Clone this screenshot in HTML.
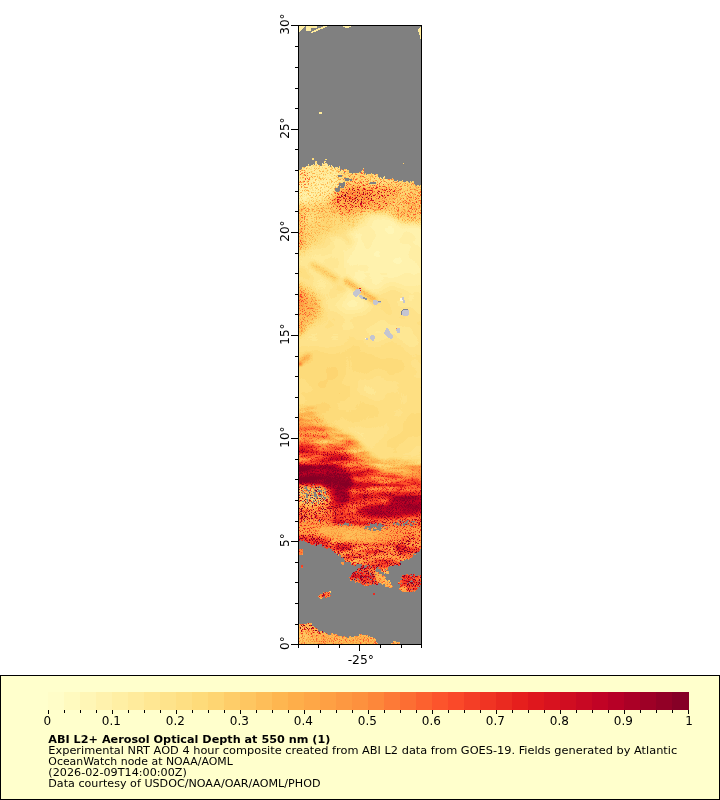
<!DOCTYPE html>
<html lang="en"><head><meta charset="utf-8"><title>ABI L2+ Aerosol Optical Depth at 550 nm</title>
<style>html,body{margin:0;padding:0;background:#fff}body{width:720px;height:800px;overflow:hidden}svg{display:block}text{font-family:"DejaVu Sans","Liberation Sans",sans-serif;fill:#000}</style></head><body>
<svg width="720" height="800" viewBox="0 0 720 800">
<rect width="720" height="800" fill="#fff"/>
<defs>
<clipPath id="mc"><rect x="299" y="26" width="122" height="618"/></clipPath>
<filter id="cm" filterUnits="userSpaceOnUse" x="298" y="25" width="124" height="620" color-interpolation-filters="sRGB">
<feColorMatrix in="SourceGraphic" type="matrix" values="1 0 0 0 0 1 0 0 0 0 1 0 0 0 0 0 0 0 0 1" result="V"/>
<feColorMatrix in="SourceGraphic" type="matrix" values="0 1 0 0 0 0 1 0 0 0 0 1 0 0 0 0 0 0 0 1" result="G"/>
<feTurbulence type="fractalNoise" baseFrequency="1.73 1.37" numOctaves="1" seed="5" result="T2"/>
<feGaussianBlur in="T2" stdDeviation="0.55" result="T2b"/>
<feColorMatrix in="T2b" type="matrix" values="0 3.4 0 0 -1.2 0 3.4 0 0 -1.2 0 3.4 0 0 -1.2 0 0 0 0 1" result="N2a"/>
<feComponentTransfer in="N2a" result="N2"><feFuncR type="gamma" exponent="3.2"/><feFuncG type="gamma" exponent="3.2"/><feFuncB type="gamma" exponent="3.2"/></feComponentTransfer>
<feTurbulence type="fractalNoise" baseFrequency="0.035 0.04" numOctaves="2" seed="21" result="T3"/>
<feColorMatrix in="T3" type="matrix" values="1 0 0 0 0 1 0 0 0 0 1 0 0 0 0 0 0 0 0 1" result="NL"/>
<feColorMatrix in="SourceGraphic" type="matrix" values="0 0 1 0 0 0 0 1 0 0 0 0 1 0 0 0 0 0 0 1" result="B"/>
<feTurbulence type="fractalNoise" baseFrequency="0.035 0.16" numOctaves="2" seed="8" result="T4"/>
<feColorMatrix in="T4" type="matrix" values="2.2 0 0 0 -0.6 2.2 0 0 0 -0.6 2.2 0 0 0 -0.6 0 0 0 0 1" result="N3"/>
<feComposite in="B" in2="N3" operator="arithmetic" k1="1" k2="0" k3="0" k4="0" result="MB"/>
<feComposite in="G" in2="N2" operator="arithmetic" k1="1" k2="0" k3="0" k4="0" result="M"/>
<feComposite in="V" in2="MB" operator="arithmetic" k1="0" k2="1" k3="1.0" k4="0" result="V2"/>
<feComposite in="V2" in2="M" operator="arithmetic" k1="0" k2="1" k3="1.0" k4="0" result="S"/>
<feComposite in="S" in2="NL" operator="arithmetic" k1="0" k2="1" k3="0.11" k4="-0.055" result="T"/>
<feComponentTransfer in="T">
<feFuncR type="discrete" tableValues="1.000 1.000 1.000 1.000 1.000 1.000 0.999 0.998 0.997 0.996 0.996 0.996 0.996 0.996 0.996 0.996 0.995 0.994 0.993 0.993 0.992 0.991 0.990 0.989 0.989 0.978 0.959 0.939 0.920 0.900 0.875 0.845 0.816 0.786 0.756 0.717 0.669 0.622 0.574 0.526"/>
<feFuncG type="discrete" tableValues="0.993 0.979 0.965 0.951 0.936 0.922 0.906 0.890 0.875 0.859 0.836 0.805 0.775 0.744 0.713 0.684 0.655 0.625 0.596 0.567 0.528 0.479 0.429 0.380 0.331 0.285 0.245 0.204 0.163 0.122 0.092 0.071 0.051 0.031 0.010 0.000 0.000 0.000 0.000 0.000"/>
<feFuncB type="discrete" tableValues="0.783 0.748 0.714 0.679 0.645 0.611 0.578 0.545 0.512 0.479 0.446 0.413 0.380 0.347 0.315 0.292 0.279 0.267 0.254 0.242 0.228 0.214 0.200 0.186 0.172 0.159 0.148 0.137 0.126 0.115 0.114 0.122 0.129 0.137 0.145 0.149 0.149 0.149 0.149 0.149"/>
</feComponentTransfer></filter>
<filter id="b1" x="-50%" y="-50%" width="200%" height="200%" color-interpolation-filters="sRGB"><feGaussianBlur stdDeviation="1"/></filter>
<filter id="b2" x="-50%" y="-50%" width="200%" height="200%" color-interpolation-filters="sRGB"><feGaussianBlur stdDeviation="2"/></filter>
<filter id="b3" x="-50%" y="-50%" width="200%" height="200%" color-interpolation-filters="sRGB"><feGaussianBlur stdDeviation="3"/></filter>
<filter id="b5" x="-50%" y="-50%" width="200%" height="200%" color-interpolation-filters="sRGB"><feGaussianBlur stdDeviation="5"/></filter>
<filter id="b8" x="-50%" y="-50%" width="200%" height="200%" color-interpolation-filters="sRGB"><feGaussianBlur stdDeviation="8"/></filter>
</defs>
<g clip-path="url(#mc)">
<g filter="url(#cm)">
<rect x="297" y="24" width="126" height="622" fill="#2e0000"/>
<g filter="url(#b8)"><polygon points="280,222 345,222 345,288 280,288" fill="#260000"/><polygon points="345,215 440,215 440,288 345,288" fill="#180000"/><polygon points="280,288 440,288 440,345 280,345" fill="#2e0000"/><ellipse cx="352" cy="304" rx="16" ry="12" fill="#1c0000"/><polygon points="280,345 440,345 440,425 280,425" fill="#370000"/><polygon points="280,345 350,345 350,425 280,425" fill="#3c0000"/><ellipse cx="385" cy="395" rx="18" ry="14" fill="#2f0000"/><polygon points="370,420 440,420 440,470 370,470" fill="#380000"/></g>
<g filter="url(#b5)"><polygon points="280,0 440,0 440,150 280,150" fill="#200000"/><ellipse cx="326" cy="212" rx="32" ry="11" fill="#3c4c00"/><polygon points="280,212 372,212 352,228 322,236 309,250 280,264" fill="#3c2600"/><ellipse cx="296" cy="307" rx="24" ry="22" fill="#534000"/></g>
<g filter="url(#b3)"><polygon points="280,150 440,150 440,170 280,170" fill="#4c0000"/><polygon points="280,160 342,160 342,203 280,203" fill="#1d4000"/><ellipse cx="303" cy="178" rx="8" ry="10" fill="#2b8000"/><polygon points="340,160 394,170 394,192 340,190" fill="#395900"/><polygon points="340,188 394,190 394,212 372,211 342,215 328,200" fill="#577300"/><polygon points="390,170 440,175 440,224 402,222 388,212" fill="#434c00"/><ellipse cx="412" cy="205" rx="9" ry="8" fill="#4d5900"/><ellipse cx="355" cy="195" rx="16" ry="9" fill="#6d9900"/><ellipse cx="385" cy="192" rx="14" ry="6" fill="#578000"/><polyline points="331,223 350,243" fill="none" stroke="#3d0000" stroke-width="6" stroke-linecap="round" stroke-linejoin="round"/><polyline points="298,270 312,280" fill="none" stroke="#400000" stroke-width="5" stroke-linecap="round" stroke-linejoin="round"/><ellipse cx="296" cy="302" rx="7" ry="9" fill="#744c00"/><ellipse cx="298" cy="328" rx="6" ry="8" fill="#584000"/><polygon points="280,408 314,408 322,432 280,432" fill="#2c144c"/><polygon points="280,423 324,423 355,440 370,456 384,464 407,462 440,468 440,500 280,500" fill="#411f4c"/><polygon points="280,446 340,446 358,460 372,468 400,480 440,488 440,530 280,530" fill="#703359"/><polygon points="350,490 440,490 440,528 328,528 328,500" fill="#824c40"/><polygon points="280,483 328,483 328,516 280,516" fill="#4bb200"/><polygon points="280,508 335,508 335,524 280,524" fill="#698033"/><polygon points="380,517 440,517 440,528 380,528" fill="#886600"/><ellipse cx="416" cy="550" rx="8" ry="7" fill="#8f6600"/><polygon points="280,615 405,615 405,660 280,660" fill="#534000"/></g>
<g filter="url(#b2)"><polygon points="280,205 306,205 304,248 280,248" fill="#4d5900"/><polyline points="313,265 336,279" fill="none" stroke="#4b1400" stroke-width="6" stroke-linecap="round" stroke-linejoin="round"/><polyline points="346,281 374,300" fill="none" stroke="#5b1a00" stroke-width="6" stroke-linecap="round" stroke-linejoin="round"/><polyline points="338,287 345,290" fill="none" stroke="#400000" stroke-width="3" stroke-linecap="round" stroke-linejoin="round"/><polyline points="296,365 309,356" fill="none" stroke="#651a00" stroke-width="4" stroke-linecap="round" stroke-linejoin="round"/><ellipse cx="318" cy="421" rx="5" ry="3" fill="#504c00"/><ellipse cx="314" cy="435" rx="16" ry="2.5" fill="#7e4c33"/><ellipse cx="336" cy="455" rx="16" ry="3" fill="#ac4c33"/><polygon points="280,465 330,464 349,471 354,484 347,492 330,491 322,485 280,483" fill="#db4026"/><ellipse cx="395" cy="463" rx="12" ry="2.5" fill="#4f1a00"/><ellipse cx="341" cy="496" rx="9" ry="8" fill="#dd331a"/><ellipse cx="407" cy="504" rx="20" ry="9" fill="#dd331a"/><ellipse cx="388" cy="511" rx="32" ry="6" fill="#d3331a"/><polygon points="280,521 305,522 340,526 380,530 400,527 440,527 440,541 370,546 340,542 305,536 280,533" fill="#674c00"/><polygon points="318,527 340,528 385,532 388,539 365,543 340,539 318,534" fill="#581f00"/><polygon points="280,533 330,538 332,552 280,552" fill="#a59900"/><polygon points="330,543 440,543 440,575 330,575" fill="#5a734c"/><ellipse cx="410" cy="540" rx="12" ry="4" fill="#7d8000"/><polygon points="360,565 376,565 381,576 381,587 366,587 348,582 348,574" fill="#828033"/><polygon points="401,573 440,573 440,586 414,593 398,593 397,584" fill="#828033"/><polygon points="280,618 322,618 326,634 280,630" fill="#58b200"/></g>
<g filter="url(#b1)"><ellipse cx="300" cy="364" rx="2" ry="1" fill="#bf0000"/><polygon points="333,544 346,543 353,546 352,550 340,551 334,548" fill="#b1b200"/><polygon points="394,545 404,544 408,548 404,552 396,551" fill="#b1b200"/><polygon points="375,571 381,571 396,586 393,591 387,590 375,579" fill="#584000"/><ellipse cx="403" cy="589" rx="5" ry="3" fill="#624c00"/><ellipse cx="325" cy="595" rx="8" ry="4" fill="#836600"/><ellipse cx="374" cy="594" rx="3" ry="3" fill="#bf0000"/><ellipse cx="300" cy="551" rx="5" ry="5" fill="#884c00"/><ellipse cx="302" cy="566" rx="3" ry="3" fill="#b20000"/><ellipse cx="342" cy="563" rx="3" ry="3" fill="#730000"/></g>
</g>
<path fill="#808080" shape-rendering="crispEdges" d="M305 26h1v1h-1zM317 26h6v1h-6zM327 26h16v1h-16zM351 26h70v1h-70zM304 27h2v1h-2zM317 27h4v1h-4zM325 27h20v1h-20zM349 27h71v1h-71zM303 28h3v1h-3zM311 28h7v1h-7zM323 28h96v1h-96zM302 29h4v1h-4zM311 29h5v1h-5zM320 29h98v1h-98zM301 30h5v1h-5zM311 30h3v1h-3zM318 30h100v1h-100zM300 31h12v1h-12zM316 31h102v1h-102zM299 32h12v1h-12zM313 32h106v1h-106zM299 33h120v1h-120zM299 34h120v1h-120zM299 35h121v1h-121zM299 36h121v1h-121zM299 37h121v1h-121zM299 38h121v1h-121zM299 39h122v1h-122zM299 40h122v1h-122zM299 41h122v1h-122zM299 42h122v1h-122zM299 43h122v1h-122zM299 44h122v1h-122zM299 45h122v1h-122zM299 46h122v1h-122zM299 47h122v1h-122zM299 48h122v1h-122zM299 49h122v1h-122zM299 50h122v1h-122zM299 51h122v1h-122zM299 52h122v1h-122zM299 53h122v1h-122zM299 54h122v1h-122zM299 55h122v1h-122zM299 56h122v1h-122zM299 57h122v1h-122zM299 58h122v1h-122zM299 59h122v1h-122zM299 60h122v1h-122zM299 61h122v1h-122zM299 62h122v1h-122zM299 63h122v1h-122zM299 64h122v1h-122zM299 65h122v1h-122zM299 66h122v1h-122zM299 67h122v1h-122zM299 68h122v1h-122zM299 69h122v1h-122zM299 70h122v1h-122zM299 71h122v1h-122zM299 72h122v1h-122zM299 73h122v1h-122zM299 74h122v1h-122zM299 75h122v1h-122zM299 76h122v1h-122zM299 77h122v1h-122zM299 78h122v1h-122zM299 79h122v1h-122zM299 80h122v1h-122zM299 81h122v1h-122zM299 82h122v1h-122zM299 83h122v1h-122zM299 84h122v1h-122zM299 85h122v1h-122zM299 86h122v1h-122zM299 87h122v1h-122zM299 88h122v1h-122zM299 89h122v1h-122zM299 90h122v1h-122zM299 91h122v1h-122zM299 92h122v1h-122zM299 93h122v1h-122zM299 94h122v1h-122zM299 95h122v1h-122zM299 96h122v1h-122zM299 97h122v1h-122zM299 98h122v1h-122zM299 99h122v1h-122zM299 100h122v1h-122zM299 101h122v1h-122zM299 102h122v1h-122zM299 103h122v1h-122zM299 104h122v1h-122zM299 105h122v1h-122zM299 106h122v1h-122zM299 107h122v1h-122zM299 108h122v1h-122zM299 109h122v1h-122zM299 110h122v1h-122zM299 111h122v1h-122zM299 112h20v1h-20zM322 112h99v1h-99zM299 113h20v1h-20zM322 113h99v1h-99zM299 114h122v1h-122zM299 115h122v1h-122zM299 116h122v1h-122zM299 117h122v1h-122zM299 118h122v1h-122zM299 119h122v1h-122zM299 120h122v1h-122zM299 121h122v1h-122zM299 122h122v1h-122zM299 123h122v1h-122zM299 124h122v1h-122zM299 125h122v1h-122zM299 126h122v1h-122zM299 127h122v1h-122zM299 128h122v1h-122zM299 129h122v1h-122zM299 130h122v1h-122zM299 131h122v1h-122zM299 132h122v1h-122zM299 133h122v1h-122zM299 134h122v1h-122zM299 135h122v1h-122zM299 136h122v1h-122zM299 137h122v1h-122zM299 138h122v1h-122zM299 139h122v1h-122zM299 140h122v1h-122zM299 141h122v1h-122zM299 142h122v1h-122zM299 143h122v1h-122zM299 144h122v1h-122zM299 145h122v1h-122zM299 146h122v1h-122zM299 147h122v1h-122zM299 148h122v1h-122zM299 149h122v1h-122zM299 150h122v1h-122zM299 151h122v1h-122zM299 152h122v1h-122zM299 153h122v1h-122zM299 154h122v1h-122zM299 155h122v1h-122zM299 156h122v1h-122zM299 157h122v1h-122zM299 158h13v1h-13zM314 158h107v1h-107zM299 159h13v1h-13zM314 159h11v1h-11zM327 159h94v1h-94zM299 160h122v1h-122zM299 161h16v1h-16zM317 161h7v1h-7zM326 161h95v1h-95zM299 162h16v1h-16zM317 162h7v1h-7zM325 162h96v1h-96zM299 163h16v1h-16zM317 163h5v1h-5zM323 163h1v1h-1zM327 163h76v1h-76zM404 163h17v1h-17zM299 164h9v1h-9zM309 164h4v1h-4zM314 164h1v1h-1zM318 164h4v1h-4zM328 164h93v1h-93zM299 165h9v1h-9zM309 165h2v1h-2zM320 165h2v1h-2zM328 165h1v1h-1zM330 165h1v1h-1zM332 165h89v1h-89zM299 166h7v1h-7zM330 166h1v1h-1zM333 166h6v1h-6zM340 166h81v1h-81zM299 167h3v1h-3zM334 167h1v1h-1zM338 167h1v1h-1zM340 167h81v1h-81zM299 168h3v1h-3zM340 168h23v1h-23zM364 168h57v1h-57zM299 169h2v1h-2zM340 169h1v1h-1zM342 169h2v1h-2zM347 169h16v1h-16zM364 169h57v1h-57zM340 170h1v1h-1zM349 170h13v1h-13zM364 170h57v1h-57zM349 171h12v1h-12zM364 171h57v1h-57zM344 172h1v1h-1zM349 172h10v1h-10zM360 172h1v1h-1zM364 172h57v1h-57zM352 173h1v1h-1zM364 173h1v1h-1zM366 173h5v1h-5zM372 173h49v1h-49zM366 174h1v1h-1zM374 174h1v1h-1zM378 174h43v1h-43zM338 175h4v1h-4zM378 175h43v1h-43zM338 176h4v1h-4zM378 176h6v1h-6zM385 176h36v1h-36zM379 177h1v1h-1zM381 177h2v1h-2zM385 177h36v1h-36zM344 178h5v1h-5zM382 178h1v1h-1zM385 178h7v1h-7zM393 178h28v1h-28zM345 179h7v1h-7zM394 179h27v1h-27zM345 180h4v1h-4zM350 180h2v1h-2zM394 180h3v1h-3zM398 180h4v1h-4zM403 180h18v1h-18zM398 181h1v1h-1zM403 181h3v1h-3zM408 181h2v1h-2zM411 181h1v1h-1zM414 181h7v1h-7zM343 182h2v1h-2zM370 182h6v1h-6zM409 182h1v1h-1zM414 182h7v1h-7zM339 183h6v1h-6zM369 183h7v1h-7zM414 183h7v1h-7zM339 184h6v1h-6zM415 184h6v1h-6zM339 185h6v1h-6zM416 185h1v1h-1zM419 185h1v1h-1zM338 186h2v1h-2zM341 186h3v1h-3zM338 187h6v1h-6zM335 188h5v1h-5zM335 189h5v1h-5zM335 190h5v1h-5zM336 191h3v1h-3zM313 484h1v1h-1zM304 486h1v1h-1zM306 486h1v1h-1zM312 486h1v1h-1zM319 486h1v1h-1zM305 487h2v1h-2zM317 487h1v1h-1zM319 487h1v1h-1zM304 488h3v1h-3zM310 488h1v1h-1zM313 488h1v1h-1zM316 488h1v1h-1zM324 488h1v1h-1zM306 489h2v1h-2zM314 489h1v1h-1zM318 489h1v1h-1zM325 489h1v1h-1zM302 490h1v1h-1zM307 490h3v1h-3zM314 490h1v1h-1zM318 490h4v1h-4zM323 490h1v1h-1zM303 491h1v1h-1zM308 491h1v1h-1zM311 491h1v1h-1zM315 491h1v1h-1zM317 491h5v1h-5zM325 491h1v1h-1zM301 492h1v1h-1zM313 492h3v1h-3zM321 492h1v1h-1zM324 492h2v1h-2zM302 493h1v1h-1zM304 493h3v1h-3zM309 493h1v1h-1zM311 493h1v1h-1zM314 493h2v1h-2zM325 493h1v1h-1zM299 494h1v1h-1zM306 494h3v1h-3zM314 494h3v1h-3zM321 494h1v1h-1zM306 495h2v1h-2zM311 495h2v1h-2zM314 495h3v1h-3zM318 495h5v1h-5zM301 496h1v1h-1zM306 496h2v1h-2zM314 496h3v1h-3zM319 496h3v1h-3zM323 496h1v1h-1zM327 496h1v1h-1zM304 497h1v1h-1zM306 497h2v1h-2zM310 497h2v1h-2zM316 497h2v1h-2zM321 497h1v1h-1zM323 497h3v1h-3zM328 497h1v1h-1zM310 498h1v1h-1zM313 498h1v1h-1zM316 498h1v1h-1zM324 498h2v1h-2zM306 499h2v1h-2zM315 499h1v1h-1zM321 499h1v1h-1zM324 499h1v1h-1zM307 500h1v1h-1zM313 500h1v1h-1zM318 500h1v1h-1zM302 501h2v1h-2zM307 501h1v1h-1zM313 501h2v1h-2zM316 501h1v1h-1zM322 501h1v1h-1zM306 502h1v1h-1zM311 502h2v1h-2zM318 502h1v1h-1zM305 503h1v1h-1zM312 503h1v1h-1zM318 503h1v1h-1zM319 520h1v1h-1zM398 520h1v1h-1zM400 520h1v1h-1zM407 520h2v1h-2zM304 521h1v1h-1zM319 521h1v1h-1zM402 521h2v1h-2zM406 521h2v1h-2zM411 521h4v1h-4zM345 522h1v1h-1zM394 522h1v1h-1zM397 522h1v1h-1zM405 522h3v1h-3zM413 522h1v1h-1zM416 522h1v1h-1zM344 523h5v1h-5zM368 523h1v1h-1zM370 523h1v1h-1zM375 523h2v1h-2zM379 523h2v1h-2zM393 523h2v1h-2zM396 523h3v1h-3zM403 523h4v1h-4zM410 523h1v1h-1zM338 524h1v1h-1zM340 524h1v1h-1zM343 524h6v1h-6zM351 524h1v1h-1zM370 524h7v1h-7zM378 524h4v1h-4zM393 524h1v1h-1zM396 524h4v1h-4zM401 524h1v1h-1zM403 524h2v1h-2zM407 524h2v1h-2zM410 524h2v1h-2zM414 524h1v1h-1zM340 525h1v1h-1zM342 525h1v1h-1zM347 525h2v1h-2zM351 525h1v1h-1zM370 525h7v1h-7zM378 525h7v1h-7zM398 525h1v1h-1zM401 525h1v1h-1zM403 525h2v1h-2zM410 525h3v1h-3zM365 526h18v1h-18zM365 527h2v1h-2zM368 527h5v1h-5zM376 527h5v1h-5zM387 527h1v1h-1zM364 528h3v1h-3zM369 528h2v1h-2zM373 528h1v1h-1zM377 528h5v1h-5zM384 528h1v1h-1zM368 529h3v1h-3zM373 529h8v1h-8zM370 530h1v1h-1zM373 530h3v1h-3zM379 530h2v1h-2zM300 540h1v1h-1zM303 540h1v1h-1zM299 541h6v1h-6zM299 542h8v1h-8zM299 543h11v1h-11zM315 543h1v1h-1zM299 544h12v1h-12zM314 544h1v1h-1zM319 544h3v1h-3zM299 545h16v1h-16zM317 545h5v1h-5zM299 546h23v1h-23zM323 546h2v1h-2zM299 547h25v1h-25zM299 548h27v1h-27zM328 548h2v1h-2zM303 549h29v1h-29zM420 549h1v1h-1zM303 550h29v1h-29zM420 550h1v1h-1zM303 551h31v1h-31zM419 551h2v1h-2zM303 552h31v1h-31zM417 552h4v1h-4zM303 553h33v1h-33zM337 553h1v1h-1zM414 553h7v1h-7zM303 554h34v1h-34zM339 554h1v1h-1zM413 554h1v1h-1zM416 554h5v1h-5zM299 555h39v1h-39zM339 555h2v1h-2zM413 555h8v1h-8zM299 556h42v1h-42zM413 556h8v1h-8zM299 557h42v1h-42zM342 557h1v1h-1zM412 557h9v1h-9zM299 558h45v1h-45zM410 558h11v1h-11zM299 559h45v1h-45zM406 559h2v1h-2zM409 559h12v1h-12zM299 560h46v1h-46zM404 560h17v1h-17zM299 561h46v1h-46zM400 561h21v1h-21zM299 562h42v1h-42zM344 562h7v1h-7zM400 562h21v1h-21zM299 563h42v1h-42zM344 563h7v1h-7zM401 563h20v1h-20zM299 564h43v1h-43zM344 564h7v1h-7zM356 564h6v1h-6zM401 564h20v1h-20zM299 565h2v1h-2zM303 565h51v1h-51zM356 565h6v1h-6zM365 565h2v1h-2zM368 565h1v1h-1zM394 565h4v1h-4zM400 565h21v1h-21zM299 566h2v1h-2zM303 566h58v1h-58zM364 566h3v1h-3zM371 566h1v1h-1zM389 566h32v1h-32zM299 567h2v1h-2zM303 567h58v1h-58zM364 567h2v1h-2zM369 567h1v1h-1zM377 567h2v1h-2zM388 567h33v1h-33zM299 568h59v1h-59zM363 568h1v1h-1zM376 568h2v1h-2zM388 568h33v1h-33zM299 569h58v1h-58zM376 569h5v1h-5zM385 569h1v1h-1zM388 569h33v1h-33zM299 570h58v1h-58zM360 570h1v1h-1zM375 570h6v1h-6zM386 570h35v1h-35zM299 571h56v1h-56zM359 571h1v1h-1zM362 571h1v1h-1zM368 571h1v1h-1zM376 571h5v1h-5zM389 571h32v1h-32zM299 572h54v1h-54zM379 572h5v1h-5zM389 572h32v1h-32zM299 573h53v1h-53zM356 573h1v1h-1zM364 573h1v1h-1zM370 573h1v1h-1zM379 573h5v1h-5zM385 573h1v1h-1zM389 573h32v1h-32zM299 574h53v1h-53zM360 574h1v1h-1zM370 574h1v1h-1zM375 574h1v1h-1zM382 574h24v1h-24zM408 574h2v1h-2zM412 574h1v1h-1zM415 574h6v1h-6zM299 575h52v1h-52zM371 575h1v1h-1zM382 575h1v1h-1zM384 575h18v1h-18zM410 575h3v1h-3zM415 575h3v1h-3zM419 575h1v1h-1zM299 576h52v1h-52zM385 576h17v1h-17zM299 577h50v1h-50zM362 577h1v1h-1zM367 577h1v1h-1zM372 577h1v1h-1zM386 577h15v1h-15zM412 577h1v1h-1zM299 578h51v1h-51zM354 578h1v1h-1zM357 578h1v1h-1zM369 578h1v1h-1zM385 578h17v1h-17zM414 578h1v1h-1zM299 579h51v1h-51zM355 579h1v1h-1zM358 579h1v1h-1zM370 579h2v1h-2zM386 579h16v1h-16zM405 579h1v1h-1zM299 580h51v1h-51zM352 580h2v1h-2zM375 580h1v1h-1zM387 580h1v1h-1zM390 580h10v1h-10zM411 580h1v1h-1zM299 581h56v1h-56zM360 581h1v1h-1zM390 581h10v1h-10zM410 581h3v1h-3zM418 581h1v1h-1zM299 582h56v1h-56zM356 582h2v1h-2zM373 582h1v1h-1zM389 582h1v1h-1zM391 582h7v1h-7zM409 582h1v1h-1zM420 582h1v1h-1zM299 583h62v1h-62zM365 583h1v1h-1zM368 583h1v1h-1zM378 583h3v1h-3zM391 583h7v1h-7zM401 583h1v1h-1zM407 583h1v1h-1zM413 583h1v1h-1zM299 584h63v1h-63zM372 584h2v1h-2zM375 584h1v1h-1zM378 584h4v1h-4zM383 584h2v1h-2zM391 584h9v1h-9zM299 585h65v1h-65zM369 585h16v1h-16zM392 585h8v1h-8zM419 585h2v1h-2zM299 586h86v1h-86zM393 586h7v1h-7zM420 586h1v1h-1zM299 587h90v1h-90zM392 587h8v1h-8zM417 587h4v1h-4zM299 588h100v1h-100zM418 588h3v1h-3zM299 589h100v1h-100zM411 589h1v1h-1zM417 589h4v1h-4zM299 590h102v1h-102zM416 590h5v1h-5zM299 591h30v1h-30zM331 591h71v1h-71zM413 591h1v1h-1zM415 591h6v1h-6zM299 592h24v1h-24zM324 592h1v1h-1zM331 592h90v1h-90zM299 593h24v1h-24zM330 593h43v1h-43zM375 593h46v1h-46zM299 594h21v1h-21zM330 594h43v1h-43zM375 594h46v1h-46zM299 595h20v1h-20zM331 595h90v1h-90zM299 596h19v1h-19zM324 596h1v1h-1zM330 596h91v1h-91zM299 597h20v1h-20zM323 597h2v1h-2zM327 597h94v1h-94zM299 598h21v1h-21zM322 598h99v1h-99zM299 599h122v1h-122zM299 600h122v1h-122zM299 601h122v1h-122zM299 602h122v1h-122zM299 603h122v1h-122zM299 604h122v1h-122zM299 605h122v1h-122zM299 606h122v1h-122zM299 607h122v1h-122zM299 608h122v1h-122zM299 609h122v1h-122zM299 610h122v1h-122zM299 611h122v1h-122zM299 612h122v1h-122zM299 613h122v1h-122zM299 614h122v1h-122zM299 615h122v1h-122zM299 616h122v1h-122zM299 617h122v1h-122zM299 618h122v1h-122zM299 619h122v1h-122zM299 620h122v1h-122zM299 621h122v1h-122zM299 622h122v1h-122zM299 623h8v1h-8zM312 623h109v1h-109zM312 624h109v1h-109zM312 625h109v1h-109zM314 626h107v1h-107zM315 627h106v1h-106zM317 628h104v1h-104zM318 629h103v1h-103zM318 630h103v1h-103zM319 631h1v1h-1zM323 631h98v1h-98zM323 632h1v1h-1zM325 632h96v1h-96zM327 633h4v1h-4zM333 633h88v1h-88zM328 634h3v1h-3zM337 634h22v1h-22zM362 634h59v1h-59zM338 635h21v1h-21zM368 635h53v1h-53zM342 636h1v1h-1zM345 636h4v1h-4zM351 636h3v1h-3zM368 636h1v1h-1zM370 636h51v1h-51zM347 637h2v1h-2zM373 637h48v1h-48zM375 638h46v1h-46zM376 639h45v1h-45zM376 640h45v1h-45zM376 641h17v1h-17zM396 641h25v1h-25zM377 642h16v1h-16zM400 642h21v1h-21zM378 643h13v1h-13zM400 643h21v1h-21z"/>
<g fill="#c4c5d0" shape-rendering="crispEdges">

<path d="M356 289H361v1H356zM355 290H361v1H355zM354 291H361v1H354zM353 292H361v1H353zM353 293H360v1H353zM353 294H359v1H353zM353.5 295H358v1H353.5zM354.5 296H357v1H354.5z"/>
<path d="M358.5 295H361.5v1H358.5zM359 296H363v1H359zM359.5 297H363v1H359.5zM361 298H363v1H361z"/>
<path d="M363 297h2v1h2v1.500h-2.500v-1h-1.500z" fill="#8a8e9e"/>
<path d="M372.5 300H377v1H372.5zM372.5 301H381v1H372.5zM372.5 302H381v1H372.5zM373 303H377.5v1H373zM373.5 304H376.5v1H373.5z"/>
<path d="M377.500 300.500h3.500v1h-3.500z" fill="#8a8e9e"/>
<path d="M400 297.500h2.500v3h-2.500z" fill="#fffbe0"/>
<path d="M402.300 297h2v2.500h.8v3.500h-1.600v-3.500h-1.200z"/>
<path d="M402.5 309H407.5v1H402.5zM401.5 310H408.5v1H401.5zM401 311H409v1H401zM401 312H409v1H401zM401 313H409v1H401zM401.5 314H409v1H401.5zM402.5 315H408v1H402.5z"/>
<path d="M400.500 310.500h1v-1h1v-1h5v1h-4.500v1h-1v4.500h-1.500z" fill="#7d8294"/>
<path d="M397 328H400v1H397zM396 329H400v1H396zM396 330H400v1H396zM396.5 331H400v1H396.5zM397 332H399.5v1H397z"/>
<path d="M396 328h1v1h-1z" fill="#fd8d3c"/>
<path d="M386 328H388v1H386zM385.5 329H388.5v1H385.5zM385 330H389v1H385zM384.5 331H389.5v1H384.5zM384.3 332H390v1H384.3zM384.3 333H391v1H384.3zM385 334H392v1H385zM386 335H392.5v1H386zM387 336H393v1H387zM388 337H393v1H388zM389.5 338H392v1H389.5z"/>
<path d="M371 334.7H374v1H371zM370 335.7H374.7v1H370zM370 336.7H374.7v1H370zM370 337.7H374.7v1H370zM370.5 338.7H374v1H370.5zM371.5 339.5H373.5v1H371.5z"/>
<path d="M366 338h2v1.500h-2z"/>
<path d="M364.500 337.500h1.500v1h-1.500z" fill="#fffbe0"/>
<path d="M358.500 287.500h2v1h-2z" fill="#e31a1c"/>
<path d="M360 289.500h1v1h-1z" fill="#e31a1c"/>

</g>
</g>
<g stroke="#000" stroke-width="1" shape-rendering="crispEdges" fill="none">
<rect x="298.5" y="25.5" width="123" height="619"/>
<path d="M291 644.5H298M295 624.5H298M295 603.5H298M295 582.5H298M295 562.5H298M291 541.5H298M295 521.5H298M295 500.5H298M295 479.5H298M295 459.5H298M291 438.5H298M295 417.5H298M295 397.5H298M295 376.5H298M295 356.5H298M291 335.5H298M295 314.5H298M295 294.5H298M295 273.5H298M295 253.5H298M291 232.5H298M295 211.5H298M295 191.5H298M295 170.5H298M295 149.5H298M291 129.5H298M295 108.5H298M295 88.5H298M295 67.5H298M295 46.5H298M291 25.5H298M298.5 645V648M318.5 645V648M339.5 645V648M359.5 645V651M380.5 645V648M401.5 645V648M421.5 645V648"/>
</g>
<text font-size="12" text-anchor="middle" transform="translate(288.6,643.1) rotate(-90)" x="0" y="0">0°</text>
<text font-size="12" text-anchor="middle" transform="translate(288.6,540.1) rotate(-90)" x="0" y="0">5°</text>
<text font-size="12" text-anchor="middle" transform="translate(288.6,437.1) rotate(-90)" x="0" y="0">10°</text>
<text font-size="12" text-anchor="middle" transform="translate(288.6,334.1) rotate(-90)" x="0" y="0">15°</text>
<text font-size="12" text-anchor="middle" transform="translate(288.6,231.1) rotate(-90)" x="0" y="0">20°</text>
<text font-size="12" text-anchor="middle" transform="translate(288.6,128.1) rotate(-90)" x="0" y="0">25°</text>
<text font-size="12" text-anchor="middle" transform="translate(288.6,24.1) rotate(-90)" x="0" y="0">30°</text>
<text font-size="12" text-anchor="middle" transform="translate(360.8,664) scale(1.03,1)">-25°</text>
<rect x="0.5" y="675.5" width="719" height="124" fill="#ffffcc" stroke="#000" stroke-width="1" shape-rendering="crispEdges"/>
<g shape-rendering="crispEdges">
<rect x="48" y="692" width="16" height="18" fill="#fffdc8"/>
<rect x="64" y="692" width="16" height="18" fill="#fffabf"/>
<rect x="80" y="692" width="16" height="18" fill="#fff6b6"/>
<rect x="96" y="692" width="16" height="18" fill="#fff2ad"/>
<rect x="112" y="692" width="16" height="18" fill="#ffefa4"/>
<rect x="128" y="692" width="16" height="18" fill="#ffeb9c"/>
<rect x="144" y="692" width="16" height="18" fill="#ffe793"/>
<rect x="160" y="692" width="16" height="18" fill="#fee38b"/>
<rect x="176" y="692" width="16" height="18" fill="#fedf83"/>
<rect x="192" y="692" width="16" height="18" fill="#fedb7a"/>
<rect x="208" y="692" width="16" height="18" fill="#fed572"/>
<rect x="224" y="692" width="16" height="18" fill="#fecd69"/>
<rect x="240" y="692" width="16" height="18" fill="#fec661"/>
<rect x="256" y="692" width="16" height="18" fill="#febe59"/>
<rect x="272" y="692" width="16" height="18" fill="#feb650"/>
<rect x="288" y="692" width="16" height="18" fill="#feae4a"/>
<rect x="304" y="692" width="16" height="18" fill="#fea747"/>
<rect x="320" y="692" width="16" height="18" fill="#fea044"/>
<rect x="336" y="692" width="16" height="18" fill="#fd9841"/>
<rect x="352" y="692" width="16" height="18" fill="#fd913e"/>
<rect x="368" y="692" width="16" height="18" fill="#fd873a"/>
<rect x="384" y="692" width="16" height="18" fill="#fd7a37"/>
<rect x="400" y="692" width="16" height="18" fill="#fc6e33"/>
<rect x="416" y="692" width="16" height="18" fill="#fc612f"/>
<rect x="432" y="692" width="16" height="18" fill="#fc542c"/>
<rect x="448" y="692" width="16" height="18" fill="#fa4929"/>
<rect x="464" y="692" width="16" height="18" fill="#f43e26"/>
<rect x="480" y="692" width="16" height="18" fill="#f03423"/>
<rect x="496" y="692" width="16" height="18" fill="#ea2a20"/>
<rect x="512" y="692" width="16" height="18" fill="#e61f1d"/>
<rect x="528" y="692" width="16" height="18" fill="#df171d"/>
<rect x="544" y="692" width="16" height="18" fill="#d8121f"/>
<rect x="560" y="692" width="16" height="18" fill="#d00d21"/>
<rect x="576" y="692" width="16" height="18" fill="#c80823"/>
<rect x="592" y="692" width="16" height="18" fill="#c10325"/>
<rect x="608" y="692" width="16" height="18" fill="#b70026"/>
<rect x="624" y="692" width="16" height="18" fill="#ab0026"/>
<rect x="640" y="692" width="16" height="18" fill="#9e0026"/>
<rect x="656" y="692" width="16" height="18" fill="#920026"/>
<rect x="672" y="692" width="17" height="18" fill="#860026"/>
</g>
<path d="M48.5 710V714M64.5 710V713M80.5 710V713M96.5 710V713M112.5 710V714M128.5 710V713M144.5 710V713M160.5 710V713M176.5 710V714M192.5 710V713M208.5 710V713M224.5 710V713M240.5 710V714M256.5 710V713M272.5 710V713M288.5 710V713M304.5 710V714M320.5 710V713M336.5 710V713M352.5 710V713M368.5 710V714M384.5 710V713M400.5 710V713M416.5 710V713M432.5 710V714M448.5 710V713M464.5 710V713M480.5 710V713M496.5 710V714M512.5 710V713M528.5 710V713M544.5 710V713M560.5 710V714M576.5 710V713M592.5 710V713M608.5 710V713M624.5 710V714M640.5 710V713M656.5 710V713M672.5 710V713M688.5 710V714" stroke="#000" stroke-width="1" shape-rendering="crispEdges" fill="none"/>
<text font-size="12" text-anchor="middle" x="47.3" y="725">0</text>
<text font-size="12" text-anchor="middle" x="111.3" y="725">0.1</text>
<text font-size="12" text-anchor="middle" x="175.3" y="725">0.2</text>
<text font-size="12" text-anchor="middle" x="239.3" y="725">0.3</text>
<text font-size="12" text-anchor="middle" x="303.3" y="725">0.4</text>
<text font-size="12" text-anchor="middle" x="367.3" y="725">0.5</text>
<text font-size="12" text-anchor="middle" x="431.3" y="725">0.6</text>
<text font-size="12" text-anchor="middle" x="495.3" y="725">0.7</text>
<text font-size="12" text-anchor="middle" x="559.3" y="725">0.8</text>
<text font-size="12" text-anchor="middle" x="623.3" y="725">0.9</text>
<text font-size="12" text-anchor="middle" x="689.0" y="725">1</text>
<text font-size="10" font-weight="bold" transform="translate(48.3,743) scale(1.123,1)">ABI L2+ Aerosol Optical Depth at 550 nm (1)</text>
<text font-size="10" transform="translate(48.3,753.5) scale(1.135,1)">Experimental NRT AOD 4 hour composite created from ABI L2 data from GOES-19. Fields generated by Atlantic</text>
<text font-size="10" transform="translate(48.3,764.5) scale(1.093,1)">OceanWatch node at NOAA/AOML</text>
<text font-size="10" transform="translate(48.3,775.5) scale(1.119,1)">(2026-02-09T14:00:00Z)</text>
<text font-size="10" transform="translate(48.3,786.5) scale(1.114,1)">Data courtesy of USDOC/NOAA/OAR/AOML/PHOD</text>
</svg></body></html>
